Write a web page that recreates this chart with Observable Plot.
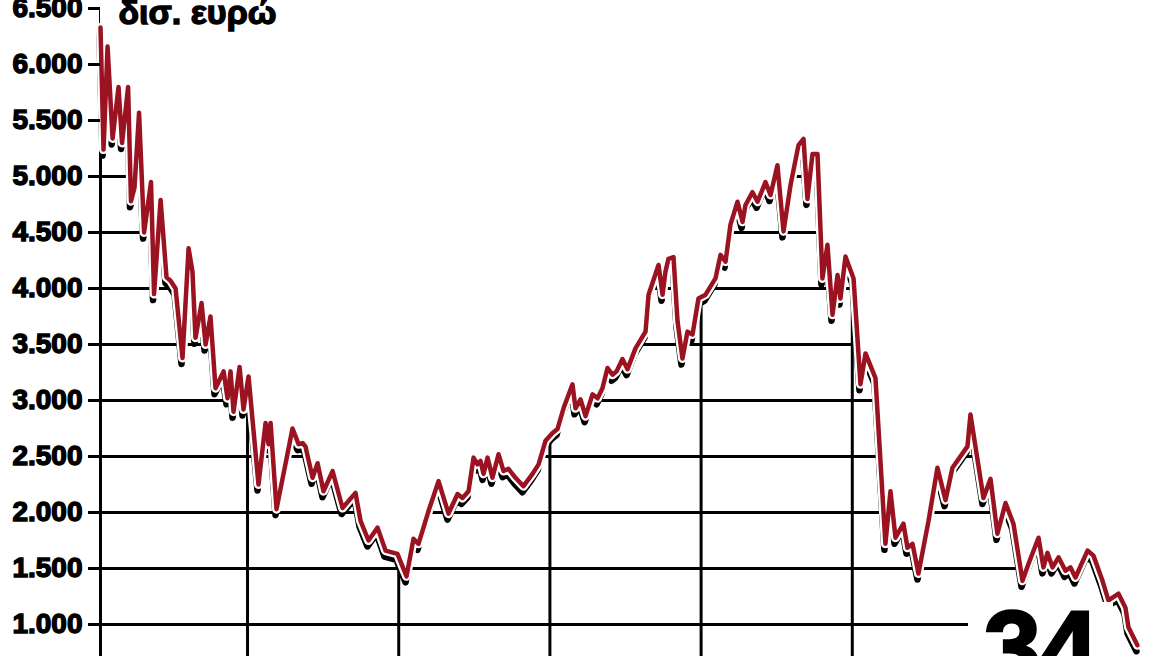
<!DOCTYPE html>
<html>
<head>
<meta charset="utf-8">
<script src="https://cdn.jsdelivr.net/npm/d3@7"></script>
<script src="https://cdn.jsdelivr.net/npm/@observablehq/plot@0.6"></script>
<style>
  html, body { margin: 0; padding: 0; background: #fff; overflow: hidden; }
  #wrap { position: relative; width: 1168px; height: 656px; overflow: hidden; }
  #big { position: absolute; left: 968px; top: 602px; width: 145px; height: 54px; background: #fff; overflow: hidden; }
  #big span { display: block; margin-top: -6px; margin-left: 16px; font: bold 102px "Liberation Sans", Arial, sans-serif; line-height: 1; color: #000; -webkit-text-stroke: 3px #000; }
  svg text { font-family: "Liberation Sans", Arial, sans-serif; }
  g[aria-label="y-axis tick label"] text { stroke: #000; stroke-width: 1.4px; }
  g[aria-label="text"] text { stroke: #000; stroke-width: 1.4px; }
</style>
</head>
<body>
<div id="wrap"></div>
<script>
// Time in months from the start of the series (vertical rules mark each 12 months)
const months = [0.33,0.57,0.89,1.29,1.76,2.04,2.52,2.75,3.03,3.39,3.79,4.34,4.58,5.10,5.57,5.89,6.29,6.84,7.32,7.63,7.87,8.35,8.67,9.06,9.46,10.10,10.41,10.65,10.89,11.37,11.68,12.08,12.48,12.87,13.43,13.67,13.83,14.30,15.57,16.05,16.37,16.60,17.16,17.56,18.03,18.75,19.54,20.57,20.97,21.60,22.32,22.95,23.90,24.62,25.17,25.57,26.37,27.16,27.95,28.67,29.06,29.54,29.94,30.25,30.49,30.73,31.05,31.44,31.92,32.32,32.71,33.27,33.90,34.62,35.10,35.65,36.21,36.60,37.08,37.79,38.03,38.43,38.83,39.38,39.78,40.17,40.57,40.97,41.29,41.76,42.16,42.79,43.59,43.83,44.62,44.94,45.17,45.41,45.81,46.13,46.52,46.92,47.32,47.79,48.35,49.14,49.54,49.94,50.33,50.89,51.29,51.52,52.08,52.48,53.11,53.51,54.06,54.54,55.10,55.73,56.13,56.44,56.84,57.24,57.63,58.03,58.43,58.83,59.06,59.46,60.10,60.65,61.05,61.84,62.63,63.03,63.43,64.06,64.38,64.78,65.25,66.05,66.76,67.40,67.95,69.14,69.38,70.41,70.97,71.52,72.16,72.79,73.51,73.98,74.78,75.17,75.49,75.89,76.37,76.92,77.32,77.71,78.67,79.14,79.86,80.33,81.13,81.68,81.92,82.63];
// Values in billions of euros
const values = [6330,5240,6160,5340,5800,5300,5800,4780,4900,5570,4500,4950,3950,4790,4100,4070,4000,3380,4360,4150,3560,3870,3500,3750,3110,3260,3020,3260,2900,3300,2920,3215,2725,2250,2800,2610,2800,2030,2750,2610,2620,2590,2310,2440,2190,2370,2040,2175,1925,1750,1865,1660,1630,1430,1765,1720,2015,2280,1990,2165,2130,2190,2490,2430,2460,2345,2490,2310,2520,2370,2390,2310,2235,2345,2430,2640,2710,2745,2930,3145,2930,3010,2860,3055,3020,3110,3290,3230,3260,3370,3280,3465,3615,3945,4210,3945,4150,4265,4280,3705,3375,3615,3590,3910,3945,4090,4300,4240,4570,4775,4595,4745,4860,4775,4950,4835,5100,4510,4925,5280,5335,4800,5200,5200,4090,4390,3765,4120,3910,4285,4090,3145,3420,3200,1720,2190,1775,1900,1685,1720,1455,1925,2400,2110,2400,2590,2875,2130,2300,1810,2085,1900,1390,1540,1775,1510,1640,1510,1600,1480,1510,1420,1660,1615,1390,1215,1275,1150,975,815];
const yTicks = [1000,1500,2000,2500,3000,3500,4000,4500,5000,5500,6000,6500];
const yearMarks = [12,24,36,48,60];
const gridEnd = 73;
const unitLabel = "δισ. ευρώ";
const bigNumber = "34";

const data = months.map((m, i) => ({m, v: values[i]}));
const grk = d3.formatLocale({decimal: ",", thousands: ".", grouping: [3], currency: ["", "€"]}).format(",");
const red = "#9b1220";
const x0 = months[0];

const chart = Plot.plot({
  width: 1168,
  height: 700,
  marginLeft: 100,
  marginRight: 20,
  marginTop: 8,
  marginBottom: 20,
  x: {domain: [x0, 83.51], axis: null},
  y: {domain: [500, 6500]},
  marks: [
    Plot.ruleY(yTicks, {x1: x0, x2: gridEnd, stroke: "#000", strokeWidth: 3}),
    Plot.ruleX([x0, ...yearMarks], {y1: 500, y2: 6500, stroke: "#000", strokeWidth: 3}),
    Plot.areaY(data, {x: "m", y1: "v", y2: 6800, fill: "#fff"}),
    Plot.lineY(data, {x: "m", y: "v", stroke: "#000", strokeWidth: 6.5, dx: -1, dy: 6, strokeLinejoin: "round", strokeLinecap: "round"}),
    Plot.lineY(data, {x: "m", y: "v", stroke: "#fff", strokeWidth: 9, strokeLinejoin: "round", strokeLinecap: "round"}),
    Plot.lineY(data, {x: "m", y: "v", stroke: red, strokeWidth: 4.5, strokeLinejoin: "round", strokeLinecap: "round"}),
    Plot.axisY({ticks: yTicks, tickFormat: grk, tickSize: 12, tickPadding: 6, strokeWidth: 3, fontSize: 28, fontWeight: "bold", label: null, fill: "#000"}),
    Plot.text([unitLabel], {frameAnchor: "top-left", dx: 18, dy: 15, lineAnchor: "bottom", textAnchor: "start", fontSize: 34, fontWeight: "bold", fill: "#000"})
  ]
});

const wrap = document.getElementById("wrap");
wrap.appendChild(chart);
const big = document.createElement("div");
big.id = "big";
big.innerHTML = `<span>${bigNumber}</span>`;
wrap.appendChild(big);
</script>
</body>
</html>
